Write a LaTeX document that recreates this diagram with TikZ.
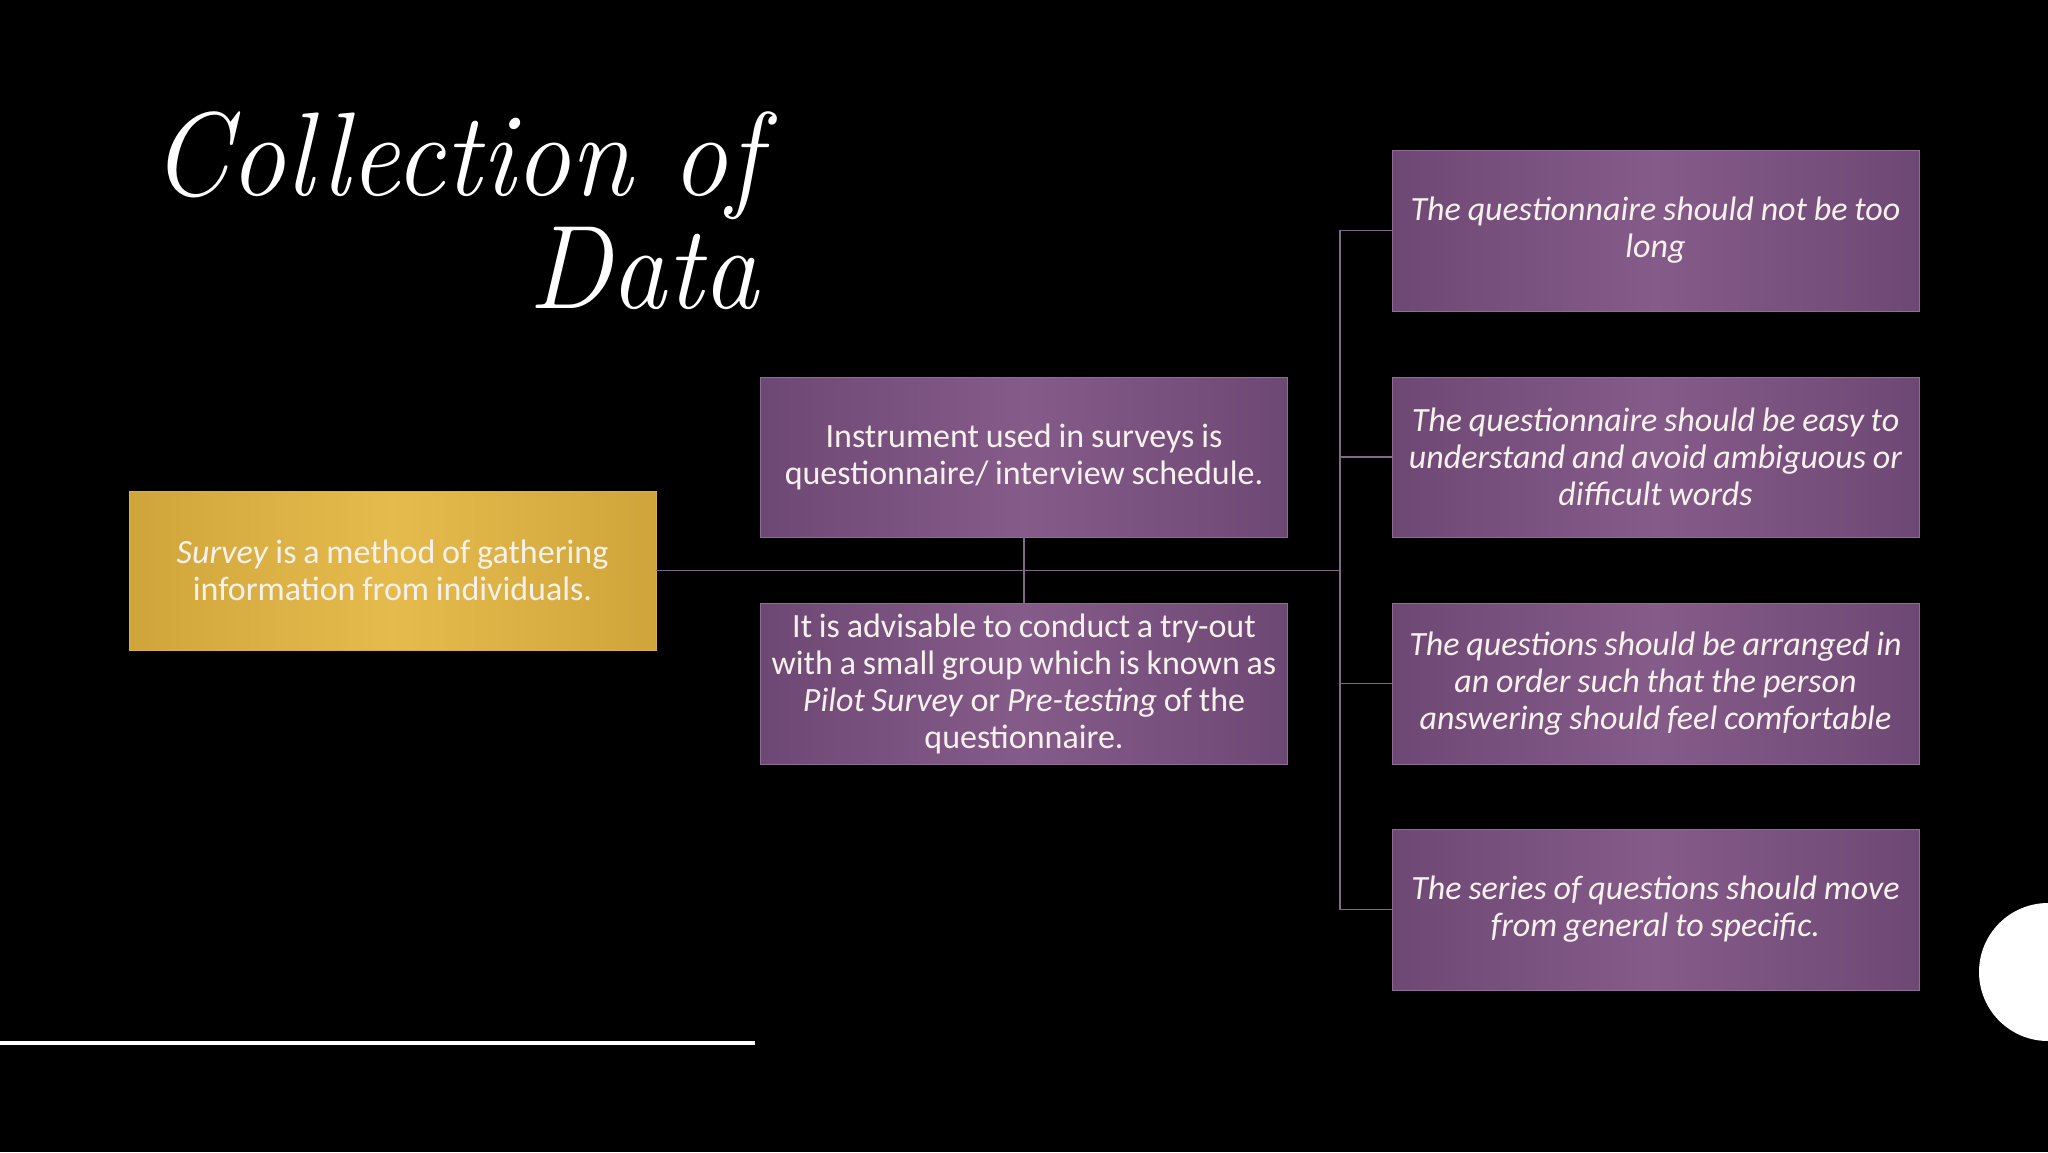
\documentclass[tikz,border=0pt]{standalone}
\usepackage{fontspec}
\newfontfamily\boxfont{Carlito}
\definecolor{pdark}{HTML}{6E4874}
\definecolor{plight}{HTML}{855B89}
\definecolor{pedge}{HTML}{8E6C93}
\definecolor{gdark}{HTML}{CFA53B}
\definecolor{glight}{HTML}{E6BB4D}
\definecolor{gedge}{HTML}{D8B04A}
\definecolor{conn}{HTML}{7E6A86}
\definecolor{txt}{HTML}{F6F1EC}
\begin{document}
\begin{tikzpicture}[x=1pt,y=-1pt,
  box/.style={rectangle, minimum width=527pt, minimum height=160pt, inner sep=0pt,
    text width=527pt, align=center, text=txt,
    font=\boxfont\fontsize{34}{37}\selectfont,
    execute at begin node={\spaceskip=0.2em\relax\xspaceskip=0.25em\relax}},
  italicbox/.style={font=\boxfont\itshape\fontsize{34}{37}\selectfont},
  purplebox/.style={box, draw=pedge, line width=0.8pt,
    left color=pdark, right color=pdark, middle color=plight},
  goldbox/.style={box, draw=gedge, line width=0.8pt,
    left color=gdark, right color=gdark, middle color=glight},
  connector/.style={draw=conn, line width=1.5pt},
  titletext/.style={inner sep=0pt, text=white, font=\fontsize{119}{113}\selectfont\itshape}
]
\useasboundingbox (0,0) rectangle (2048,1152);
\fill[black] (0,0) rectangle (2048,1152);
\begin{scope}
\clip (0,0) rectangle (2048,1152);
\fill[white] (2048,972) circle[radius=69pt];
\end{scope}
\fill[white] (0,1041) rectangle (755,1045);

\node[titletext, anchor=base east] (t1) at (761,195) {\scalebox{0.94}[1]{Collection of}};
\node[titletext, anchor=base east] (t2) at (759,308) {\scalebox{0.94}[1]{Data}};

\node[goldbox, minimum height=159pt] (gold) at (392.5,570.5) {\textit{Survey} is a method of gathering\\ information from individuals.};

\node[purplebox] (mtop) at (1024,457) {Instrument used in surveys is\\ questionnaire/ interview schedule.};
\node[purplebox, minimum height=161pt] (mbot) at (1024,683.5) {It is advisable to conduct a try-out\\ with a small group which is known as\\ \textit{Pilot Survey} or \textit{Pre-testing} of the\\ questionnaire.};

\node[purplebox, italicbox, minimum height=161pt] (r1) at (1655.5,230.5) {The questionnaire should not be too\\ long};
\node[purplebox, italicbox] (r2) at (1655.5,457) {The questionnaire should be easy to\\ understand and avoid ambiguous or\\ difficult words};
\node[purplebox, italicbox, minimum height=161pt] (r3) at (1655.5,683.5) {The questions should be arranged in\\ an order such that the person\\ answering should feel comfortable};
\node[purplebox, italicbox, minimum height=161pt] (r4) at (1655.5,909.5) {The series of questions should move\\ from general to specific.};

\coordinate (jn) at (1340,570.5);
\draw[connector] (gold.east) -- (jn);
\draw[connector] (mtop.south) -- (mbot.north);
\draw[connector] (r1.west) -| (jn) |- (r4.west);
\draw[connector] (r2.west) -- (r2.west -| jn);
\draw[connector] (r3.west) -- (r3.west -| jn);
\end{tikzpicture}
\end{document}
